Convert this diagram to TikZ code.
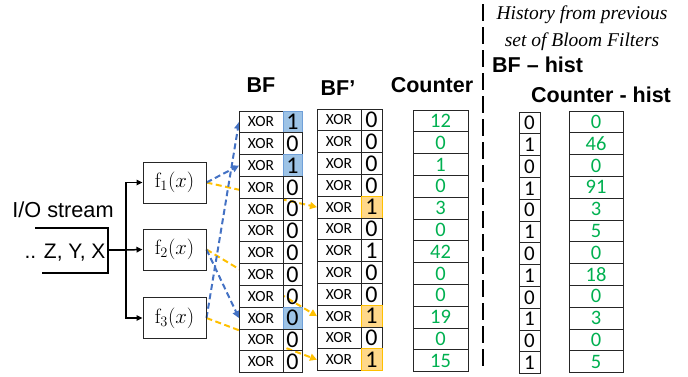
\documentclass[tikz,border=0pt]{standalone}
\usepackage[no-math]{fontspec}
\setmainfont{Liberation Sans}
\newfontfamily\calf{Carlito}
\newfontfamily\timesf{Liberation Serif}
\usetikzlibrary{arrows.meta}
\definecolor{arrblue}{HTML}{4472C4}
\definecolor{arrorange}{HTML}{FFC000}
\definecolor{hlblue}{HTML}{9DC3E6}
\definecolor{hlblueline}{HTML}{6F9FD8}
\definecolor{hlorange}{HTML}{FFD88A}
\definecolor{cgreen}{HTML}{00B050}
\definecolor{vline}{HTML}{262626}
\pgfdeclarelayer{mid}
\pgfsetlayers{mid,main}
\begin{document}
\begin{tikzpicture}[x=1pt,y=-1pt,
  xorbox/.style={draw=vline, line width=0.9pt, fill=white, minimum width=44pt, minimum height=21.8pt,
    inner sep=0pt, outer sep=0pt, font=\calf\fontsize{15.5}{15.5}\selectfont, anchor=north west},
  valbox/.style={line width=0.9pt, minimum width=19pt, minimum height=21.8pt,
    inner sep=0pt, outer sep=0pt, font=\calf\fontsize{24}{24}\selectfont, anchor=north west},
  cntbox/.style={draw=vline, line width=0.9pt, minimum width=55pt, minimum height=21.8pt,
    inner sep=0pt, outer sep=0pt, text=cgreen, font=\calf\fontsize{20.5}{20.5}\selectfont, anchor=north west},
  histbox/.style={draw=vline, line width=0.9pt, minimum width=21pt, minimum height=21.8pt,
    inner sep=0pt, outer sep=0pt, font=\calf\fontsize{21}{21}\selectfont, anchor=north west},
  fbox/.style={draw=vline, line width=1pt, minimum width=63pt, minimum height=41pt, inner sep=0pt,
    font=\fontsize{21}{21}\selectfont},
  head/.style={font=\bfseries\fontsize{21.5}{21.5}\selectfont, inner sep=0pt},
  barr/.style={draw=arrblue, line width=2pt, dash pattern=on 6pt off 3.5pt,
    -{Triangle[length=7pt,width=7pt]}},
  oarr/.style={draw=arrorange, line width=2pt, dash pattern=on 6pt off 3.5pt,
    -{Triangle[length=7pt,width=7pt]}},
  blkarr/.style={draw=black, line width=1.5pt, -{Triangle[length=6pt,width=5.5pt]}}
]
\useasboundingbox (0,0) rectangle (688,376);

% ---- BF column
\foreach \v/\f/\d [count=\i] in {1/hlblue/hlblueline,0/none/vline,1/hlblue/hlblueline,0/none/vline,
  0/none/vline,0/none/vline,0/none/vline,0/none/vline,0/none/vline,0/hlblue/hlblueline,0/none/vline,0/none/vline}{
  \node[xorbox] (bfx\i) at (239,{111+(\i-1)*21.8}) {XOR};
  \node[valbox, fill=\f, draw=\d] (bfv\i) at (283,{111+(\i-1)*21.8}) {\v};
}
% ---- BF' column
\foreach \v/\f/\d [count=\i] in {0/none/vline,0/none/vline,0/none/vline,0/none/vline,
  1/hlorange/arrorange,0/none/vline,1/none/vline,0/none/vline,0/none/vline,1/hlorange/arrorange,0/none/vline,1/hlorange/arrorange}{
  \node[xorbox] (bfpx\i) at (317,{109+(\i-1)*21.8}) {XOR};
  \node[valbox, minimum width=21pt, fill=\f, draw=\d] (bfpv\i) at (361,{109+(\i-1)*21.8}) {\v};
}
% ---- Counter column
\foreach \v [count=\i] in {12,0,1,0,3,0,42,0,0,19,0,15}{
  \node[cntbox] (cnt\i) at (413,{110+(\i-1)*21.8}) {\v};
}
% ---- BF-hist column
\foreach \v [count=\i] in {0,1,0,1,0,1,0,1,0,1,0,1}{
  \node[histbox] (bfh\i) at (519,{112+(\i-1)*21.8}) {\v};
}
% ---- Counter-hist column
\foreach \v [count=\i] in {0,46,0,91,3,5,0,18,0,3,0,5}{
  \node[cntbox, minimum width=54pt] (cnth\i) at (569,{111+(\i-1)*21.8}) {\v};
}

% ---- headings
\node[head] (hbf) at (261,85) {BF};
\node[head] (hbfp) at (338,88) {BF’};
\node[head] (hcnt) at (432,85) {Counter};
\node[head, anchor=west] (hbfh) at (492,65) {BF – hist};
\node[head] (hcnth) at (601,95) {Counter - hist};
\node[font=\timesf\itshape\fontsize{19.5}{19.5}\selectfont, inner sep=0pt] (hist1) at (582,15) {History from previous};
\node[font=\timesf\itshape\fontsize{19.5}{19.5}\selectfont, inner sep=0pt] (hist2) at (582,42) {set of Bloom Filters};

% ---- separator
\coordinate (septop) at (483,4);
\coordinate (sepbot) at (483,366);
\draw[line width=1.3pt, dash pattern=on 17pt off 6pt] (septop) -- (sepbot);

% ---- input stream
\node[font=\fontsize{21.7}{21.7}\selectfont, inner sep=0pt] (io) at (63,210) {I/O stream};
\node[font=\fontsize{21}{21}\selectfont, inner sep=0pt] (src) at (65,253) {.. Z, Y, X};
\draw[line width=1.5pt] (35,228) -- (108,228) -- (108,273) -- (42,273);
\coordinate (brk) at (108,250);
\coordinate (split) at (126,250);

% ---- hash functions
\node[fbox] (f1) at (174.5,182.5) {$\mathrm{f}_1(x)$};
\node[fbox] (f2) at (174.5,249.5) {$\mathrm{f}_2(x)$};
\node[fbox] (f3) at (174.5,318) {$\mathrm{f}_3(x)$};

\draw[line width=1.5pt] (brk) -- (split);
\draw[blkarr] (split) |- (f1.west);
\draw[blkarr] (split) -- (f2.west);
\draw[blkarr] (split) |- (f3.west);

% ---- dashed mapping arrows (behind XOR boxes)
\begin{pgfonlayer}{mid}
\draw[oarr] (f1.east) -- (bfpx5.west);
\draw[oarr] (f2.east) -- (bfpx10.west);
\draw[oarr] (f3.east) -- (bfpx12.west);
\draw[barr] (f1.east) -- (bfx3.west);
\draw[barr] (f2.east) -- (bfx10.west);
\draw[barr] (f3.east) -- (bfx1.west);
\end{pgfonlayer}
\end{tikzpicture}
\end{document}
